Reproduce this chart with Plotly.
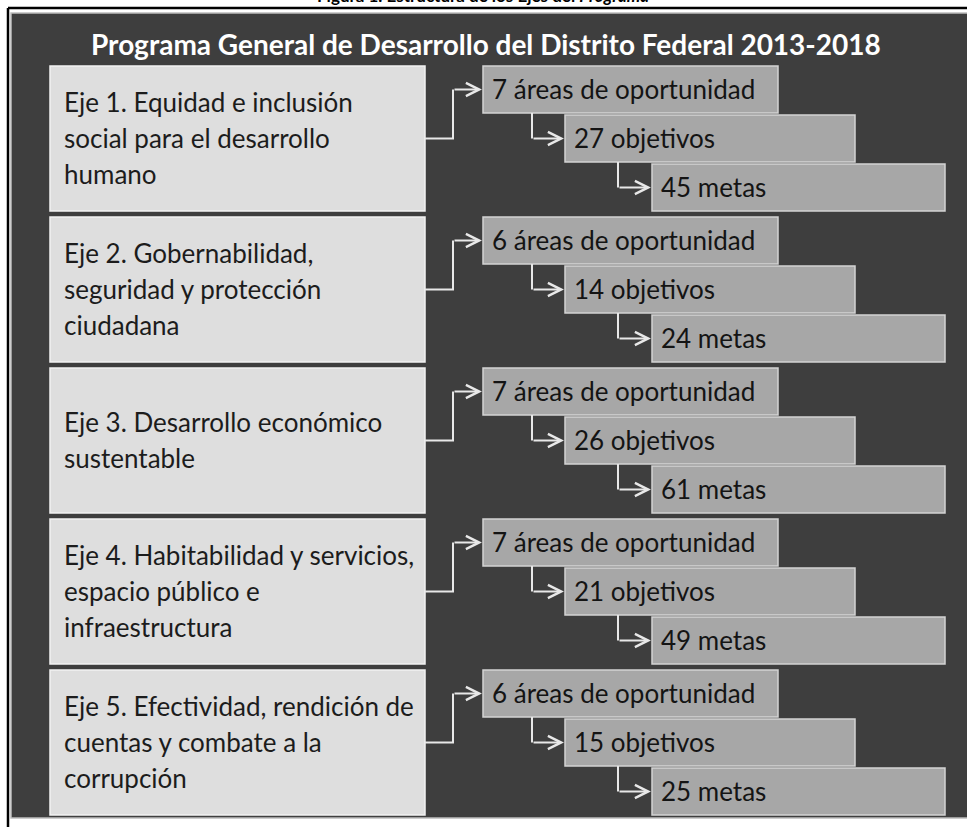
import plotly.graph_objects as go

# ---------- data ----------
EJES = [
    ["Eje 1. Equidad e inclusión", "social para el desarrollo", "humano"],
    ["Eje 2. Gobernabilidad,", "seguridad y protección", "ciudadana"],
    ["Eje 3. Desarrollo económico", "sustentable"],
    ["Eje 4. Habitabilidad y servicios,", "espacio público e", "infraestructura"],
    ["Eje 5. Efectividad, rendición de", "cuentas y combate a la", "corrupción"],
]
AREAS = [7, 6, 7, 7, 6]
OBJETIVOS = [27, 14, 26, 21, 15]
METAS = [45, 24, 61, 49, 25]

TITLE = "Programa General de Desarrollo del Distrito Federal 2013-2018"
CAPTION = "<b>Figura 1. Estructura de los Ejes del <i>Programa</i></b>"

# ---------- layout (pixels) ----------
W, H = 967, 827
FONT = "Lato"
BG = "#3e3e3e"
LEFT_FILL = "#dedede"
RIGHT_FILL = "#a7a7a7"
ARROW = "#e8e8e8"

BOX_L, BOX_R = 50, 425
TOP0, STEP, BOX_H = 66, 151, 145
LEVEL_X = [(483, 778), (565, 855), (652, 945)]
LEVEL_DY = [0, 49, 98]
LEVEL_H = 47
LINE_GAP = 36

fig = go.Figure()
shapes = []
annotations = []

# outer frame + dark panel
shapes.append(dict(type="rect", x0=11, x1=W + 2, y0=13, y1=818,
                   fillcolor=BG, line=dict(color="#bdbdbd", width=1.5), layer="below"))
shapes.append(dict(type="line", x0=8, x1=W, y0=8, y1=8, line=dict(color="black", width=2.5)))
shapes.append(dict(type="line", x0=8, x1=8, y0=8, y1=H, line=dict(color="black", width=2.5)))

annotations.append(dict(x=483, y=8, text=CAPTION, showarrow=False, yanchor="bottom",
                        font=dict(family=FONT, size=17, color="black")))
annotations.append(dict(x=486, y=44, text=TITLE, showarrow=False,
                        font=dict(family=FONT, size=28, color="white", weight="bold")))


def add_arrow(x_from, x_to, y):
    annotations.append(dict(x=x_to, y=y, ax=x_from, ay=y, xref="x", yref="y",
                            axref="x", ayref="y", showarrow=True, arrowhead=5,
                            arrowsize=1.3, arrowwidth=2, arrowcolor=ARROW,
                            standoff=1, text=""))


for i, lines in enumerate(EJES):
    top = TOP0 + i * STEP
    mid = top + BOX_H / 2
    # eje box
    shapes.append(dict(type="rect", x0=BOX_L, x1=BOX_R, y0=top, y1=top + BOX_H,
                       fillcolor=LEFT_FILL, line=dict(color="#f2f2f2", width=1.5),
                       layer="below"))
    n = len(lines)
    for k, txt in enumerate(lines):
        annotations.append(dict(x=62, y=mid + (k - (n - 1) / 2) * LINE_GAP - 1,
                                text=txt, showarrow=False, xanchor="left",
                                font=dict(family=FONT, size=26, color="#1c1c1c")))

    # three levels
    labels = [f"{AREAS[i]} áreas de oportunidad",
              f"{OBJETIVOS[i]} objetivos",
              f"{METAS[i]} metas"]
    for k, txt in enumerate(labels):
        x0, x1 = LEVEL_X[k]
        y0 = top + LEVEL_DY[k]
        shapes.append(dict(type="rect", x0=x0, x1=x1, y0=y0, y1=y0 + LEVEL_H,
                           fillcolor=RIGHT_FILL, line=dict(color="#d4d4d4", width=1.5),
                           layer="below"))
        annotations.append(dict(x=x0 + 7, y=y0 + LEVEL_H / 2 - 1, text=txt,
                                showarrow=False, xanchor="left",
                                font=dict(family=FONT, size=26, color="#141414")))

    # elbow connectors
    y_l1 = top + LEVEL_DY[0] + LEVEL_H / 2
    y_l2 = top + LEVEL_DY[1] + LEVEL_H / 2
    y_l3 = top + LEVEL_DY[2] + LEVEL_H / 2
    conn_x = [BOX_R, 453, 453, None,
              532, 532, None,
              618, 618]
    conn_y = [mid, mid, y_l1, None,
              top + LEVEL_DY[0] + LEVEL_H, y_l2, None,
              top + LEVEL_DY[1] + LEVEL_H, y_l3]
    fig.add_trace(go.Scatter(x=conn_x, y=conn_y, mode="lines",
                             line=dict(color=ARROW, width=2), hoverinfo="skip"))
    add_arrow(453, LEVEL_X[0][0], y_l1)
    add_arrow(532, LEVEL_X[1][0], y_l2)
    add_arrow(618, LEVEL_X[2][0], y_l3)

fig.update_layout(
    width=W, height=H,
    margin=dict(l=0, r=0, t=0, b=0),
    paper_bgcolor="white", plot_bgcolor="white",
    showlegend=False,
    xaxis=dict(range=[0, W], visible=False, fixedrange=True),
    yaxis=dict(range=[H, 0], visible=False, fixedrange=True),
    shapes=shapes,
    annotations=annotations,
)

# page body margin would push the figure 8px off the window
fig.write_html("out.html", config={"displayModeBar": False},
               post_script="document.body.style.margin='0';")
